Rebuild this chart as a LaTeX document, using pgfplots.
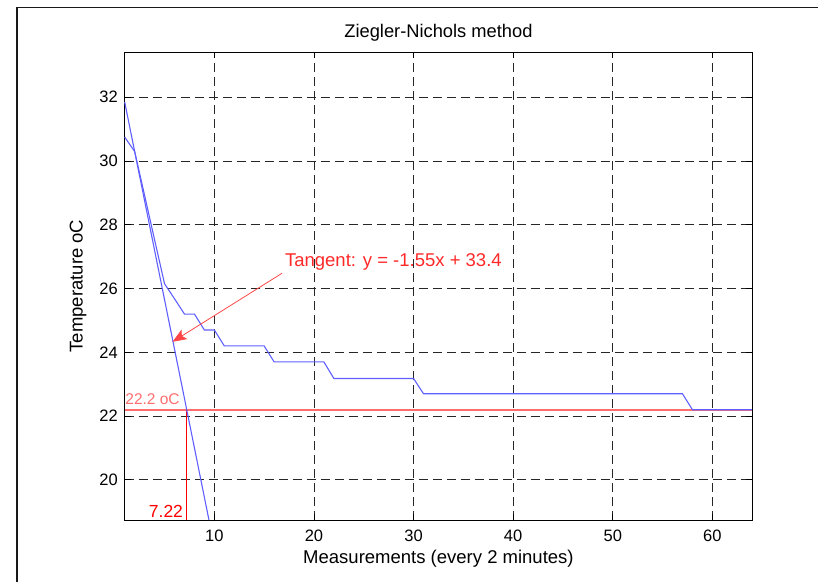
\documentclass[border=0pt]{standalone}
\usepackage{fontspec}
\setmainfont{Liberation Sans}
\usepackage{pgfplots}
\usepackage{pgfplotstable}
\pgfplotsset{compat=1.18}
\usetikzlibrary{arrows.meta}
\definecolor{dblue}{RGB}{95,95,255}
\definecolor{lred}{RGB}{255,110,110}
\definecolor{tred}{RGB}{255,40,40}
\pgfplotstableread{
x y
1 30.75
2 30.3
3 28.92
4 27.53
5 26.15
6 25.68
7 25.2
8 25.2
9 24.7
10 24.7
11 24.2
12 24.2
13 24.2
14 24.2
15 24.2
16 23.7
17 23.7
18 23.7
19 23.7
20 23.7
21 23.7
22 23.18
23 23.18
24 23.18
25 23.18
26 23.18
27 23.18
28 23.18
29 23.18
30 23.18
31 22.7
32 22.7
33 22.7
34 22.7
35 22.7
36 22.7
37 22.7
38 22.7
39 22.7
40 22.7
41 22.7
42 22.7
43 22.7
44 22.7
45 22.7
46 22.7
47 22.7
48 22.7
49 22.7
50 22.7
51 22.7
52 22.7
53 22.7
54 22.7
55 22.7
56 22.7
57 22.7
58 22.2
59 22.2
60 22.2
61 22.2
62 22.2
63 22.2
64 22.2
}\meas
\begin{document}
\begin{tikzpicture}
\begin{axis}[
 at={(0pt,0pt)}, anchor=south west,
 scale only axis, width=627.5pt, height=468pt,
 xmin=1, xmax=64, ymin=18.74, ymax=33.42,
 xtick={10,20,...,60}, ytick={20,22,...,32},
 tick align=inside, major tick length=6pt,
 grid=major,
 major grid style={black!85, line width=0.7pt, dash pattern=on 9pt off 5pt},
 axis line style={black, line width=1pt},
 tick style={black, line width=0.8pt},
 /pgf/number format/assume math mode=true,
 ticklabel style={font=\fontsize{16.5}{19}\selectfont, inner sep=0pt},
 xticklabel style={anchor=base, yshift=-21pt},
 yticklabel style={anchor=east, xshift=-6.7pt},
 title={Ziegler-Nichols method},
 title style={at={(axis description cs:0.5,1.0171)}, anchor=base, font=\fontsize{18.3}{21}\selectfont, inner sep=0pt},
 xlabel={Measurements (every 2 minutes)},
 xlabel style={at={(axis description cs:0.5,-0.094)}, anchor=base, font=\fontsize{18.5}{21}\selectfont, inner sep=0pt},
 ylabel={Temperature oC},
 ylabel style={at={(axis description cs:-0.0669,0.5)}, anchor=base, font=\fontsize{18.5}{21}\selectfont, inner sep=0pt},
 clip=false,
]
\addplot[lred, line width=1.6pt] coordinates {(1,22.2) (64,22.2)};
\addplot[red, line width=1pt] coordinates {(7.22,18.74) (7.22,22.2)};
\addplot[dblue, line width=1.1pt] table[x=x,y=y] {\meas};
\addplot[dblue, line width=1.1pt] coordinates {(1,31.85) (9.46,18.74)};
\draw[color={rgb,255:red,255;green,70;blue,70}, line width=0.8pt, -{Stealth[length=14pt,width=11pt,inset=3pt]}] (axis cs:16.8,26.48) -- (axis cs:5.8,24.33);
\node[anchor=base west, inner sep=0pt, text=tred, font=\fontsize{18.5}{21}\selectfont] at (axis cs:17.08,26.685) {Tangent: y = -1.55x + 33.4};
\node[anchor=base west, inner sep=0pt, text=lred, font=\fontsize{15.5}{18}\selectfont] at (axis cs:1.05,22.37) {22.2 oC};
\node[anchor=base east, inner sep=0pt, text=red, font=\fontsize{17.5}{20}\selectfont] at (axis cs:6.87,18.81) {7.22};
\end{axis}
\draw[line width=1.5pt, black!90] (-107.7pt,-62pt) -- (-107.7pt,512.5pt) -- (693.3pt,512.5pt);
\pgfresetboundingbox
\path[use as bounding box] (-124.7pt,-62pt) rectangle (693.3pt,520pt);
\end{tikzpicture}
\end{document}
